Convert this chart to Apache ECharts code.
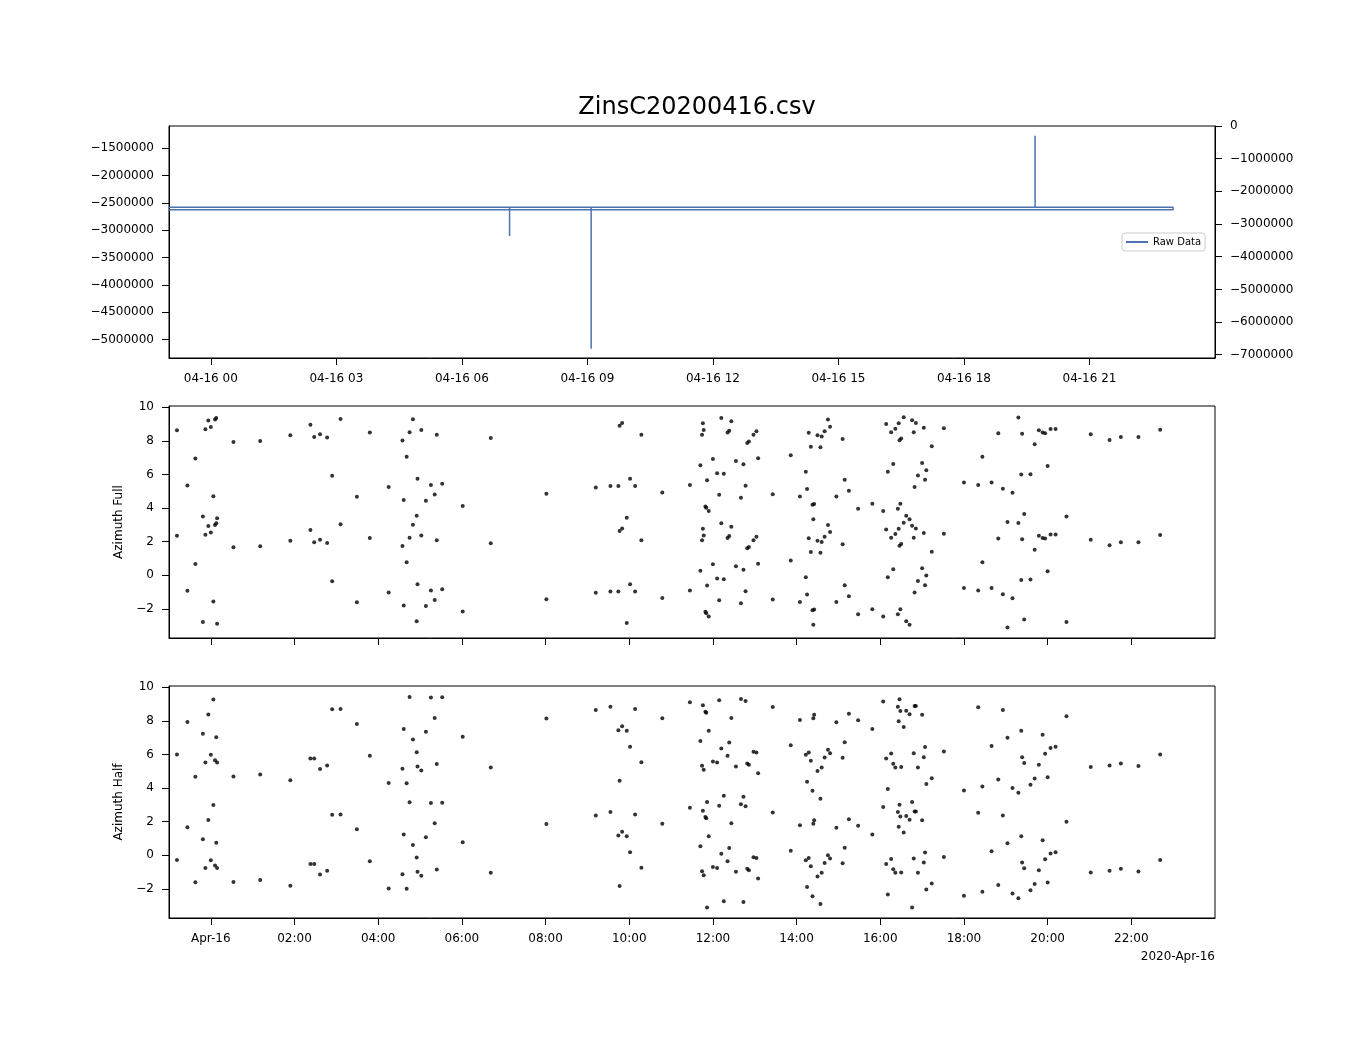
<!DOCTYPE html>
<html lang="en">
  <head>
    <meta charset="UTF-8" />
    <title>ZinsC20200416.csv</title>
    <script src="https://cdn.jsdelivr.net/npm/echarts@6/dist/echarts.min.js"></script>
    <style>
      html, body { margin: 0; padding: 0; background: #fff; }
      #main { width: 1350px; height: 1050px; }
    </style>
  </head>
  <body>
    <div id="main"></div>
    <script>
      // raw data trace (hours since 2020-04-16 00:00, raw counts)
      const rawTimes = [-1.0, 7.14, 7.14, 7.14, 9.09, 9.09, 9.09, 19.70, 19.70, 19.70, 23.0, 23.0, -1.0]
      const rawValues = [-2578000, -2578000, -3104000, -2578000, -2578000, -5165000, -2578000,
        -2578000, -1269000, -2578000, -2578000, -2622000, -2622000]

      // sample times shared by both azimuth panels (hours)
      const times = [
        -0.81, -0.56, -0.37, -0.19, -0.13, -0.06, 0.00, 0.06, 0.10, 0.13, 0.15, 0.54, 1.18, 1.90, 2.38, 2.47, 2.61,
        2.78, 2.90, 3.10, 3.49, 3.80, 4.25, 4.58, 4.61, 4.68, 4.75, 4.83, 4.92, 4.94, 5.03, 5.14, 5.26, 5.35,
        5.40, 5.53, 6.02, 6.69, 8.02, 9.20, 9.55, 9.74, 9.77, 9.83, 9.94, 10.02, 10.14, 10.29, 10.79, 11.45,
        11.70, 11.74, 11.76, 11.78, 11.82, 11.84, 11.86, 11.90, 12.00, 12.10, 12.15, 12.20, 12.26, 12.35, 12.39,
        12.44, 12.55, 12.67, 12.73, 12.78, 12.82, 12.86, 12.97, 13.04, 13.08, 13.43, 13.86, 14.08, 14.22, 14.25,
        14.29, 14.34, 14.38, 14.40, 14.42, 14.50, 14.57, 14.60, 14.67, 14.75, 14.80, 14.95, 15.10, 15.15, 15.25,
        15.47, 15.81, 16.07, 16.14, 16.18, 16.26, 16.31, 16.36, 16.42, 16.44, 16.46, 16.48, 16.50, 16.56, 16.62,
        16.70, 16.76, 16.80, 16.82, 16.85, 16.90, 17.00, 17.04, 17.07, 17.10, 17.23, 17.52,
        18.00, 18.34, 18.44, 18.66, 18.82, 18.93, 19.04, 19.16, 19.30, 19.37, 19.39, 19.44, 19.59, 19.69, 19.79,
        19.88, 19.94, 20.00, 20.07, 20.19, 20.45, 21.03, 21.48, 21.75, 22.17, 22.69
      ]

      const fullUpper = [
        8.63, 5.35, 6.95, 3.50, 8.69, 9.21, 8.83, 4.71, 9.27, 9.37, 3.39, 7.94, 8.00, 8.34, 8.97, 8.24, 8.40,
        8.20, 5.92, 9.31, 4.67, 8.50, 5.25, 8.02, 4.48, 7.05, 8.51, 9.29, 3.54, 5.74, 8.65, 4.44, 5.37, 4.81,
        8.36, 5.45, 4.12, 8.18, 4.85, 5.23, 5.31, 5.31, 8.91, 9.07, 3.43, 5.74, 5.31, 8.36, 4.93, 5.37,
        6.55, 8.36, 9.05, 8.65, 4.10, 4.02, 5.66, 3.82, 6.93, 6.08, 4.79, 9.37, 6.04, 8.50, 8.61,
        9.17, 6.81, 4.61, 6.61, 5.33, 7.88, 7.96, 8.36, 8.57, 6.97, 4.83, 7.15, 4.69, 6.16, 5.13,
        8.48, 7.66, 4.20, 3.33, 4.24, 8.34, 7.62, 8.26, 8.57, 9.27, 8.85, 4.69, 8.12, 5.68, 5.03,
        3.96, 4.26, 3.82, 9.01, 6.16, 8.51, 6.63, 8.73, 3.96, 9.05, 8.04, 4.26, 8.14, 9.41, 3.54,
        3.33, 9.23, 8.51, 5.25, 9.07, 5.94, 6.69, 8.79, 5.68, 6.26, 7.68, 8.75,
        5.52, 5.37, 7.05, 5.52, 8.46, 5.15, 3.17, 4.91, 9.39, 6.00, 8.42, 3.64, 6.02, 7.80, 8.63,
        8.50, 8.46, 6.51, 8.71, 8.71, 3.50, 8.40, 8.06, 8.24, 8.24, 8.67
      ]
      const fullLower = [
        2.35, -0.93, 0.67, -2.78, 2.41, 2.93, 2.55, -1.57, 2.99, 3.09, -2.89, 1.66, 1.72, 2.06, 2.69, 1.96, 2.12,
        1.92, -0.36, 3.03, -1.61, 2.22, -1.03, 1.74, -1.80, 0.77, 2.23, 3.01, -2.74, -0.54, 2.37, -1.84, -0.91, -1.47,
        2.08, -0.83, -2.16, 1.90, -1.43, -1.05, -0.97, -0.97, 2.63, 2.79, -2.85, -0.54, -0.97, 2.08, -1.35, -0.91,
        0.27, 2.08, 2.77, 2.37, -2.18, -2.26, -0.62, -2.46, 0.65, -0.20, -1.49, 3.09, -0.24, 2.22, 2.33,
        2.89, 0.53, -1.67, 0.33, -0.95, 1.60, 1.68, 2.08, 2.29, 0.69, -1.45, 0.87, -1.59, -0.12, -1.15,
        2.20, 1.38, -2.08, -2.95, -2.04, 2.06, 1.34, 1.98, 2.29, 2.99, 2.57, -1.59, 1.84, -0.60, -1.25,
        -2.32, -2.02, -2.46, 2.73, -0.12, 2.23, 0.35, 2.45, -2.32, 2.77, 1.76, -2.02, 1.86, 3.13, -2.74,
        -2.95, 2.95, 2.23, -1.03, 2.79, -0.34, 0.41, 2.51, -0.60, -0.02, 1.40, 2.47,
        -0.76, -0.91, 0.77, -0.76, 2.18, -1.13, -3.11, -1.37, 3.11, -0.28, 2.14, -2.64, -0.26, 1.52, 2.35,
        2.22, 2.18, 0.23, 2.43, 2.43, -2.78, 2.12, 1.78, 1.96, 1.96, 2.39
      ]

      const halfUpper = [
        6.00, 7.94, 4.67, 7.23, 5.52, 8.38, 5.98, 9.27, 5.66, 7.03, 5.52, 4.69, 4.81, 4.46, 5.76, 5.76, 5.13,
        5.35, 8.69, 8.71, 7.82, 5.92, 4.30, 5.15, 7.52, 4.28, 9.43, 6.89, 6.14, 5.29, 5.05, 7.35, 9.39, 8.18,
        5.43, 9.41, 7.05, 5.23, 8.14, 8.65, 8.85, 7.45, 4.44, 7.68, 7.41, 6.46, 8.71, 5.54, 8.16, 9.11,
        6.81, 5.33, 8.93, 5.09, 8.55, 8.48, 3.17, 7.41, 5.58, 5.52, 9.23, 6.36, 3.54, 5.92, 6.71,
        8.18, 5.29, 9.31, 3.49, 9.19, 5.47, 5.39, 6.16, 6.12, 4.89, 8.83, 6.55, 8.06, 5.98, 4.38,
        6.12, 5.62, 3.84, 8.16, 8.36, 5.01, 3.37, 5.23, 5.82, 6.28, 6.08, 7.92, 5.80, 6.73, 8.42,
        8.04, 7.52, 9.15, 5.76, 3.94, 6.06, 5.45, 5.23, 8.85, 7.98, 9.29, 8.59, 5.25, 7.64, 8.61,
        8.40, 3.17, 6.08, 8.89, 8.89, 5.23, 8.36, 5.84, 6.44, 4.24, 4.59, 6.18,
        3.86, 8.81, 4.10, 6.51, 4.51, 8.65, 6.99, 4.00, 3.72, 7.41, 5.84, 5.50, 4.20, 4.57, 5.39,
        7.17, 6.04, 4.65, 6.38, 6.46, 8.28, 5.25, 5.35, 5.47, 5.31, 6.00
      ]
      const halfLower = [
        -0.28, 1.66, -1.61, 0.95, -0.76, 2.10, -0.30, 2.99, -0.62, 0.75, -0.76, -1.59, -1.47, -1.82, -0.52, -0.52, -1.15,
        -0.93, 2.41, 2.43, 1.54, -0.36, -1.98, -1.13, 1.24, -2.00, 3.15, 0.61, -0.14, -0.99, -1.23, 1.07, 3.11, 1.90,
        -0.85, 3.13, 0.77, -1.05, 1.86, 2.37, 2.57, 1.17, -1.84, 1.40, 1.13, 0.18, 2.43, -0.74, 1.88, 2.83,
        0.53, -0.95, 2.65, -1.19, 2.27, 2.20, -3.11, 1.13, -0.70, -0.76, 2.95, 0.08, -2.74, -0.36, 0.43,
        1.90, -0.99, 3.03, -2.79, 2.91, -0.81, -0.89, -0.12, -0.16, -1.39, 2.55, 0.27, 1.78, -0.30, -1.90,
        -0.16, -0.66, -2.44, 1.88, 2.08, -1.27, -2.91, -1.05, -0.46, 0.00, -0.20, 1.64, -0.48, 0.45, 2.14,
        1.76, 1.24, 2.87, -0.52, -2.34, -0.22, -0.83, -1.05, 2.57, 1.70, 3.01, 2.31, -1.03, 1.36, 2.33,
        2.12, -3.11, -0.20, 2.61, 2.61, -1.05, 2.08, -0.44, 0.16, -2.04, -1.69, -0.10,
        -2.42, 2.53, -2.18, 0.23, -1.77, 2.37, 0.71, -2.28, -2.56, 1.13, -0.44, -0.78, -2.08, -1.71, -0.89,
        0.89, -0.24, -1.63, 0.10, 0.18, 2.00, -1.03, -0.93, -0.81, -0.97, -0.28
      ]

      // tick positions (hours) and y tick values
      const topHourTicks = [0, 3, 6, 9, 12, 15, 18, 21]
      const hourTicks = [0, 2, 4, 6, 8, 10, 12, 14, 16, 18, 20, 22]
      const leftRawTicks = [-5000000, -4500000, -4000000, -3500000, -3000000, -2500000, -2000000, -1500000]
      const rightRawTicks = [-7000000, -6000000, -5000000, -4000000, -3000000, -2000000, -1000000, 0]
      const azTicks = [-2, 0, 2, 4, 6, 8, 10]

      const font = "DejaVu Sans"
      const pad = (n) => String(n).padStart(2, "0")
      const minus = (v) => String(v).replace("-", "\u2212")

      const chart = echarts.init(document.getElementById("main"), null, { renderer: "canvas" })

      const frame = { show: true, borderColor: "#000", borderWidth: 1, backgroundColor: "transparent" }
      const axisLine = { show: true, onZero: false, lineStyle: { color: "#000", width: 1 } }
      const label = { color: "#000", fontFamily: font, fontSize: 12 }

      function xAxis(grid, showLabels, ticks, fmt) {
        return {
          type: "value", gridIndex: grid, min: -1, max: 24,
          axisLine: axisLine,
          axisTick: { show: true, length: 7, lineStyle: { color: "#000" }, customValues: ticks },
          axisLabel: Object.assign({ show: showLabels, margin: 15, customValues: ticks, formatter: fmt }, label),
          splitLine: { show: false },
        }
      }
      function yAxis(grid, min, max, ticks, pos, name) {
        return {
          type: "value", gridIndex: grid, min: min, max: max, position: pos,
          name: name || "", nameLocation: "middle", nameGap: 44,
          nameTextStyle: { color: "#000", fontFamily: font, fontSize: 12 },
          axisLine: axisLine,
          axisTick: { show: true, length: 7, lineStyle: { color: "#000" }, customValues: ticks },
          axisLabel: Object.assign({ margin: 15, customValues: ticks, formatter: minus }, label),
          splitLine: { show: false },
        }
      }

      const pairs = (xs, a, b) => xs.map((t, i) => [t, a[i]]).concat(xs.map((t, i) => [t, b[i]]))

      chart.setOption({
        animation: false,
        backgroundColor: "#fff",
        title: {
          text: "ZinsC20200416.csv", left: 692, top: 91, textAlign: "center",
          textStyle: { color: "#000", fontFamily: font, fontSize: 24, fontWeight: "normal" },
        },
        legend: {
          data: ["Raw Data"], left: 1122, top: 233, orient: "vertical",
          icon: "rect", itemWidth: 22, itemHeight: 2, padding: [4, 4, 4, 4],
          borderColor: "#ccc", borderWidth: 1, borderRadius: 3, backgroundColor: "rgba(255,255,255,0.8)",
          textStyle: { color: "#000", fontFamily: font, fontSize: 10 },
        },
        grid: [
          Object.assign({ left: 169, width: 1046, top: 126, height: 232 }, frame),
          Object.assign({ left: 169, width: 1046, top: 406, height: 232 }, frame),
          Object.assign({ left: 169, width: 1046, top: 686, height: 232 }, frame),
        ],
        xAxis: [
          xAxis(0, true, topHourTicks, (v) => "04-16 " + pad(v)),
          xAxis(1, false, hourTicks, () => ""),
          xAxis(2, true, hourTicks, (v) => (v === 0 ? "Apr-16" : pad(v) + ":00")),
        ],
        yAxis: [
          yAxis(0, -5335000, -1092000, leftRawTicks, "left"),
          yAxis(0, -7100000, 0, rightRawTicks, "right"),
          yAxis(1, -3.74, 10.08, azTicks, "left", "Azimuth Full"),
          yAxis(2, -3.74, 10.08, azTicks, "left", "Azimuth Half"),
        ],
        graphic: [
          {
            type: "text", right: 135, top: 951,
            style: { text: "2020-Apr-16", fill: "#000", font: "12px 'DejaVu Sans'", textAlign: "right" },
          },
        ],
        series: [
          {
            name: "Raw Data", type: "line", xAxisIndex: 0, yAxisIndex: 0,
            data: rawTimes.map((t, i) => [t, rawValues[i]]),
            showSymbol: false, symbol: "none",
            lineStyle: { color: "#4c72b0", width: 1.5 }, itemStyle: { color: "#4c72b0" },
          },
          {
            name: "Azimuth Full", type: "scatter", xAxisIndex: 1, yAxisIndex: 2,
            data: pairs(times, fullUpper, fullLower),
            symbolSize: 4, itemStyle: { color: "#000" },
          },
          {
            name: "Azimuth Half", type: "scatter", xAxisIndex: 2, yAxisIndex: 3,
            data: pairs(times, halfUpper, halfLower),
            symbolSize: 4, itemStyle: { color: "#000" },
          },
        ],
      })
    </script>
  </body>
</html>
